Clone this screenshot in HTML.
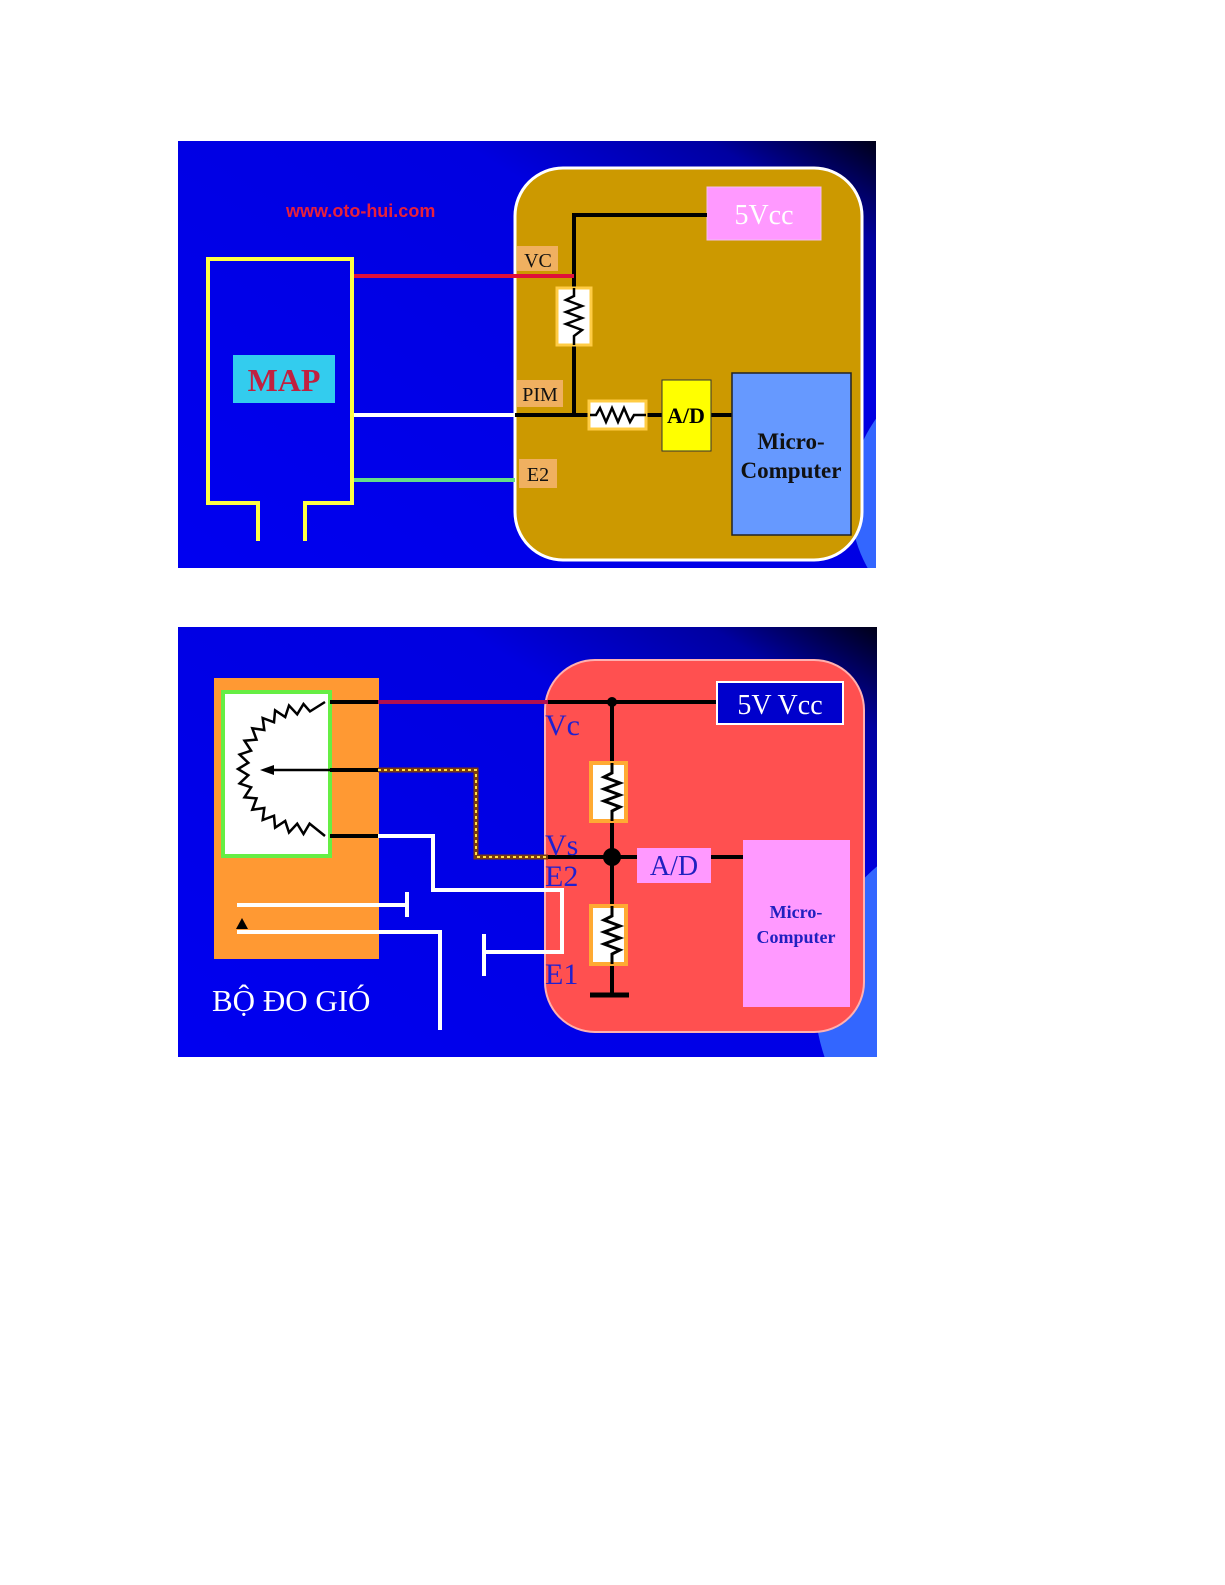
<!DOCTYPE html>
<html><head><meta charset="utf-8"><style>
html,body{margin:0;padding:0;background:#fff;width:1225px;height:1585px;overflow:hidden}
svg{position:absolute;left:0;top:0}
</style></head><body>
<svg width="1225" height="1585" viewBox="0 0 1225 1585" xmlns="http://www.w3.org/2000/svg">
<defs>
<linearGradient id="bg" x1="0" y1="1" x2="1" y2="0">
<stop offset="0" stop-color="#0000f0"/><stop offset="0.7" stop-color="#0000e0"/><stop offset="0.88" stop-color="#0000a0"/><stop offset="1" stop-color="#000018"/>
</linearGradient>
<clipPath id="c1"><rect x="178" y="141" width="698" height="427"/></clipPath>
<clipPath id="c2"><rect x="178" y="627" width="699" height="430"/></clipPath>
</defs>

<!-- ===== Diagram 1 ===== -->
<g clip-path="url(#c1)">
<rect x="178" y="141" width="698" height="427" fill="url(#bg)"/>
<circle cx="990" cy="500" r="140" fill="#3366ff"/>
<rect x="515" y="168" width="347" height="392" rx="48" fill="#cc9900" stroke="#fff" stroke-width="3"/>
</g>
<text x="286" y="217" font-family="Liberation Sans, sans-serif" font-weight="bold" font-size="18" fill="#e8203a">www.oto-hui.com</text>
<rect x="707" y="187" width="114" height="53" fill="#ff99ff" stroke="#f0c0f0"/>
<text x="764" y="224" text-anchor="middle" font-family="Liberation Serif, serif" font-size="28" fill="#fff">5Vcc</text>
<polyline points="707,215 574,215 574,287" fill="none" stroke="#000" stroke-width="4"/>
<line x1="574" y1="346" x2="574" y2="415" stroke="#000" stroke-width="4"/>
<line x1="352" y1="276" x2="574" y2="276" stroke="#e0103a" stroke-width="4"/>
<line x1="352" y1="415" x2="515" y2="415" stroke="#fff" stroke-width="4"/>
<line x1="515" y1="415" x2="590" y2="415" stroke="#000" stroke-width="4"/>
<line x1="646" y1="415" x2="662" y2="415" stroke="#000" stroke-width="4"/>
<line x1="711" y1="415" x2="732" y2="415" stroke="#000" stroke-width="4"/>
<line x1="352" y1="480" x2="515" y2="480" stroke="#66dd88" stroke-width="4"/>
<rect x="557" y="288" width="34" height="57" fill="#fff" stroke="#ffcc44" stroke-width="3"/>
<polyline points="574,288 574,296 566,300 582,306 566,312 582,318 566,324 582,330 574,336 574,345" fill="none" stroke="#000" stroke-width="2.5"/>
<rect x="589" y="401" width="57" height="28" fill="#fff" stroke="#ffcc44" stroke-width="3"/>
<polyline points="590,415 596,415 600,408 606,422 612,408 618,422 624,408 630,422 634,415 646,415" fill="none" stroke="#000" stroke-width="2.5"/>
<rect x="662" y="380" width="49" height="71" fill="#ffff00" stroke="#333"/>
<text x="686" y="423" text-anchor="middle" font-family="Liberation Serif, serif" font-weight="bold" font-size="22" fill="#000">A/D</text>
<rect x="732" y="373" width="119" height="162" fill="#6699ff" stroke="#222" stroke-width="1.5"/>
<text x="791" y="449" text-anchor="middle" font-family="Liberation Serif, serif" font-weight="bold" font-size="23" fill="#111">Micro-</text>
<text x="791" y="478" text-anchor="middle" font-family="Liberation Serif, serif" font-weight="bold" font-size="23" fill="#111">Computer</text>
<rect x="517" y="246" width="41" height="25" fill="#f0b060"/>
<text x="538" y="267" text-anchor="middle" font-family="Liberation Serif, serif" font-size="20" fill="#111">VC</text>
<rect x="517" y="380" width="46" height="27" fill="#f0b060"/>
<text x="540" y="401" text-anchor="middle" font-family="Liberation Serif, serif" font-size="20" fill="#111">PIM</text>
<rect x="519" y="459" width="38" height="29" fill="#f0b060"/>
<text x="538" y="481" text-anchor="middle" font-family="Liberation Serif, serif" font-size="20" fill="#111">E2</text>
<polyline points="258,541 258,503 208,503 208,259 352,259 352,503 305,503 305,541" fill="none" stroke="#ffff44" stroke-width="4"/>
<rect x="233" y="355" width="102" height="48" fill="#33ccee"/>
<text x="284" y="391" text-anchor="middle" font-family="Liberation Serif, serif" font-weight="bold" font-size="32" fill="#c02040">MAP</text>

<!-- ===== Diagram 2 ===== -->
<g clip-path="url(#c2)">
<rect x="178" y="627" width="699" height="430" fill="url(#bg)"/>
<circle cx="990" cy="1000" r="175" fill="#3366ff"/>
<rect x="545" y="660" width="319" height="372" rx="50" fill="#ff5050" stroke="#ffb0b0" stroke-width="2"/>
</g>
<rect x="214" y="678" width="165" height="281" fill="#ff9933"/>
<rect x="223" y="692" width="107" height="164" fill="#fff" stroke="#66ee44" stroke-width="4"/>
<path id="zig" d="" fill="none" stroke="#000" stroke-width="2.5"/>
<line x1="330" y1="702" x2="378" y2="702" stroke="#000" stroke-width="4"/>
<line x1="378" y1="702" x2="548" y2="702" stroke="#b01050" stroke-width="4"/>
<line x1="548" y1="702" x2="717" y2="702" stroke="#000" stroke-width="4"/>
<line x1="330" y1="770" x2="378" y2="770" stroke="#000" stroke-width="4"/>
<line x1="378" y1="770" x2="270" y2="770" stroke="#000" stroke-width="2.5"/>
<polygon points="260,770 274,765 274,775" fill="#000"/>
<polyline points="378,770 476,770 476,857 548,857" fill="none" stroke="#7a3a10" stroke-width="5"/>
<polyline points="378,770 476,770 476,857 548,857" fill="none" stroke="#ffdd44" stroke-width="2" stroke-dasharray="3 3"/>
<line x1="548" y1="857" x2="637" y2="857" stroke="#000" stroke-width="4"/>
<line x1="330" y1="836" x2="378" y2="836" stroke="#000" stroke-width="4"/>
<polyline points="378,836 433,836 433,890 562,890 562,952 484,952" fill="none" stroke="#fff" stroke-width="4"/>
<line x1="484" y1="934" x2="484" y2="976" stroke="#fff" stroke-width="4"/>
<line x1="237" y1="905" x2="407" y2="905" stroke="#fff" stroke-width="4"/>
<line x1="407" y1="892" x2="407" y2="917" stroke="#fff" stroke-width="4"/>
<polyline points="237,932 440,932 440,1030" fill="none" stroke="#fff" stroke-width="4"/>
<polygon points="242,918 236,929 248,929" fill="#000"/>
<line x1="612" y1="702" x2="612" y2="995" stroke="#000" stroke-width="4"/>
<line x1="590" y1="995" x2="629" y2="995" stroke="#000" stroke-width="5"/>
<circle cx="612" cy="702" r="5" fill="#000"/>
<circle cx="612" cy="857" r="9" fill="#000"/>
<rect x="591" y="763" width="35" height="58" fill="#fff" stroke="#ffaa33" stroke-width="4"/>
<polyline points="612,763 612,773 604,777 620,783 604,789 620,795 604,801 620,807 612,811 612,821" fill="none" stroke="#000" stroke-width="3"/>
<rect x="591" y="906" width="35" height="58" fill="#fff" stroke="#ffaa33" stroke-width="4"/>
<polyline points="612,906 612,916 604,920 620,926 604,932 620,938 604,944 620,950 612,954 612,964" fill="none" stroke="#000" stroke-width="3"/>
<line x1="711" y1="857" x2="743" y2="857" stroke="#000" stroke-width="4"/>
<rect x="637" y="848" width="74" height="35" fill="#ff99ff"/>
<text x="674" y="875" text-anchor="middle" font-family="Liberation Serif, serif" font-size="28" fill="#2020c0">A/D</text>
<rect x="743" y="840" width="107" height="167" fill="#ff99ff"/>
<text x="796" y="918" text-anchor="middle" font-family="Liberation Serif, serif" font-weight="bold" font-size="18" fill="#2020c0">Micro-</text>
<text x="796" y="943" text-anchor="middle" font-family="Liberation Serif, serif" font-weight="bold" font-size="18" fill="#2020c0">Computer</text>
<rect x="717" y="682" width="126" height="42" fill="#0000cc" stroke="#fff" stroke-width="2"/>
<text x="780" y="714" text-anchor="middle" font-family="Liberation Serif, serif" font-size="28" fill="#fff">5V Vcc</text>
<g font-family="Liberation Serif, serif" font-size="30" fill="#2020d0">
<text x="545" y="735">Vc</text>
<text x="545" y="855">Vs</text>
<text x="545" y="886">E2</text>
<text x="545" y="984">E1</text>
</g>
<text x="212" y="1011" font-family="Liberation Serif, serif" font-size="31" fill="#fff">BỘ ĐO GIÓ</text>
</svg>
<script>
(function(){
var cx=303,cy=769,r=58,n=30,d="M325,702 L"+(cx+Math.cos(-1.45)*r).toFixed(1)+","+(cy+Math.sin(-1.45)*r).toFixed(1);
var a0=-1.45,a1=-Math.PI*2+1.45+Math.PI*2; // end angle 1.45 going through left
var start=-1.45,end=-1.45-(Math.PI*2-2.9);
for(var i=1;i<=n;i++){var t=start+(end-start)*(i/n);var rr=r+((i%2)?7:-3);
d+=" L"+(cx+Math.cos(t)*rr).toFixed(1)+","+(cy+Math.sin(t)*rr).toFixed(1);}
d+=" L325,836";
document.getElementById("zig").setAttribute("d",d);
})();
</script>
</body></html>
